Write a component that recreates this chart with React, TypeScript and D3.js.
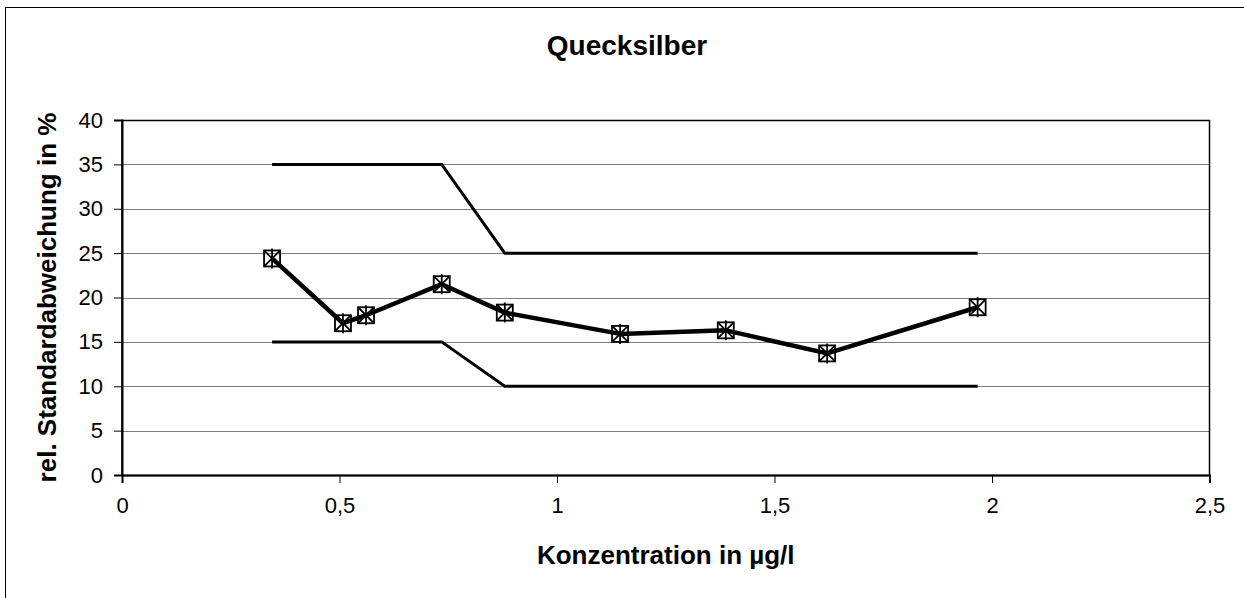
import React, { useEffect, useRef } from 'react';
import * as d3 from 'd3';

// measured values (relative standard deviation vs. concentration)
const konzentration = [0.345, 0.508, 0.561, 0.735, 0.88, 1.145, 1.388, 1.621, 1.967];
const standardabw = [24.4, 17.1, 18.0, 21.5, 18.3, 15.9, 16.3, 13.7, 18.9];

// upper and lower limit lines
const limitX = [0.345, 0.735, 0.88, 1.967];
const upperLimit = [35, 35, 25, 25];
const lowerLimit = [15, 15, 10, 10];

const xTicks = [0, 0.5, 1, 1.5, 2, 2.5];
const yTicks = [0, 5, 10, 15, 20, 25, 30, 35, 40];

const title = 'Quecksilber';
const xTitle = 'Konzentration in µg/l';
const yTitle = 'rel. Standardabweichung in %';

const W = 1244;
const H = 598;
const plot = { left: 122, top: 120, right: 1209.5, bottom: 475 };
const font = '"Liberation Sans", Arial, sans-serif';

const App = () => {
    const anchor = useRef<SVGSVGElement>(null);

    useEffect(() => {
        const svg = d3.select(anchor.current);
        svg.selectAll('*').remove();

        const x = d3.scaleLinear().domain([0, 2.5]).range([plot.left, plot.right]);
        const y = d3.scaleLinear().domain([0, 40]).range([plot.bottom, plot.top]);
        const fmt = (d: number) => String(d).replace('.', ',');

        // chart area border (runs past the right and bottom edge)
        svg.append('rect')
            .attr('x', 5.5).attr('y', 7.5)
            .attr('width', 1250).attr('height', 600)
            .attr('fill', 'white').attr('stroke', 'black').attr('stroke-width', 1);

        // gridlines
        svg.append('g').selectAll('line').data(yTicks.filter(d => d > 0 && d < 40)).enter()
            .append('line')
            .attr('x1', plot.left).attr('x2', plot.right)
            .attr('y1', d => Math.round(y(d)) + 0.5).attr('y2', d => Math.round(y(d)) + 0.5)
            .attr('stroke', '#808080').attr('stroke-width', 1);

        // plot border
        svg.append('rect')
            .attr('x', plot.left).attr('y', plot.top + 0.5)
            .attr('width', plot.right - plot.left).attr('height', plot.bottom - plot.top)
            .attr('fill', 'none').attr('stroke', 'black').attr('stroke-width', 1.5);

        // axes
        const xAxis = d3.axisBottom(x).tickValues(xTicks).tickFormat(d => fmt(+d)).tickSize(8).tickPadding(14);
        const yAxis = d3.axisLeft(y).tickValues(yTicks).tickFormat(d => fmt(+d)).tickSize(8).tickPadding(11);

        const gx = svg.append('g').attr('transform', `translate(0,${plot.bottom})`).call(xAxis);
        const gy = svg.append('g').attr('transform', `translate(${plot.left},0)`).call(yAxis);
        [gx, gy].forEach(g => {
            g.select('.domain').attr('stroke', 'black').attr('stroke-width', 2);
            g.selectAll('.tick line').attr('stroke', 'black');
            g.selectAll('.tick text').attr('fill', 'black')
                .style('font-family', font).style('font-size', '22px');
        });
        gx.selectAll('.tick text').attr('dy', '0.71em');

        // limit lines
        const limitLine = d3.line<number>().x((d, i) => x(limitX[i])).y(d => y(d));
        [upperLimit, lowerLimit].forEach(vals => {
            svg.append('path')
                .attr('d', limitLine(vals))
                .attr('fill', 'none').attr('stroke', 'black').attr('stroke-width', 3);
        });

        // data line
        const dataLine = d3.line<number>().x((d, i) => x(konzentration[i])).y(d => y(d));
        svg.append('path')
            .attr('d', dataLine(standardabw))
            .attr('fill', 'none').attr('stroke', 'black').attr('stroke-width', 4.5)
            .attr('stroke-linejoin', 'round');

        // markers: square with star inside
        const s = 8;
        const marks = svg.append('g').selectAll('g').data(standardabw).enter().append('g')
            .attr('transform', (d, i) => `translate(${x(konzentration[i])},${y(d)})`);
        marks.append('rect')
            .attr('x', -s).attr('y', -s).attr('width', 2 * s).attr('height', 2 * s)
            .attr('fill', 'none').attr('stroke', 'black').attr('stroke-width', 1.8);
        marks.append('path')
            .attr('d', `M${-s},${-s}L${s},${s}M${s},${-s}L${-s},${s}M0,${-s - 2}L0,${s + 2}`)
            .attr('stroke', 'black').attr('stroke-width', 1.8);

        // titles
        svg.append('text')
            .attr('x', 627).attr('y', 55)
            .attr('text-anchor', 'middle')
            .style('font-family', font).style('font-size', '28px').style('font-weight', 'bold')
            .text(title);

        svg.append('text')
            .attr('x', (plot.left + plot.right) / 2).attr('y', 564)
            .attr('text-anchor', 'middle')
            .style('font-family', font).style('font-size', '26px').style('font-weight', 'bold')
            .text(xTitle);

        svg.append('text')
            .attr('transform', `translate(56,${(plot.top + plot.bottom) / 2}) rotate(-90)`)
            .attr('text-anchor', 'middle')
            .style('font-family', font).style('font-size', '26px').style('font-weight', 'bold')
            .text(yTitle);
    }, []);

    return <svg ref={anchor} width={W} height={H}
        style={{ position: 'absolute', left: 0, top: 0, background: 'white' }} />;
};

export default App;
